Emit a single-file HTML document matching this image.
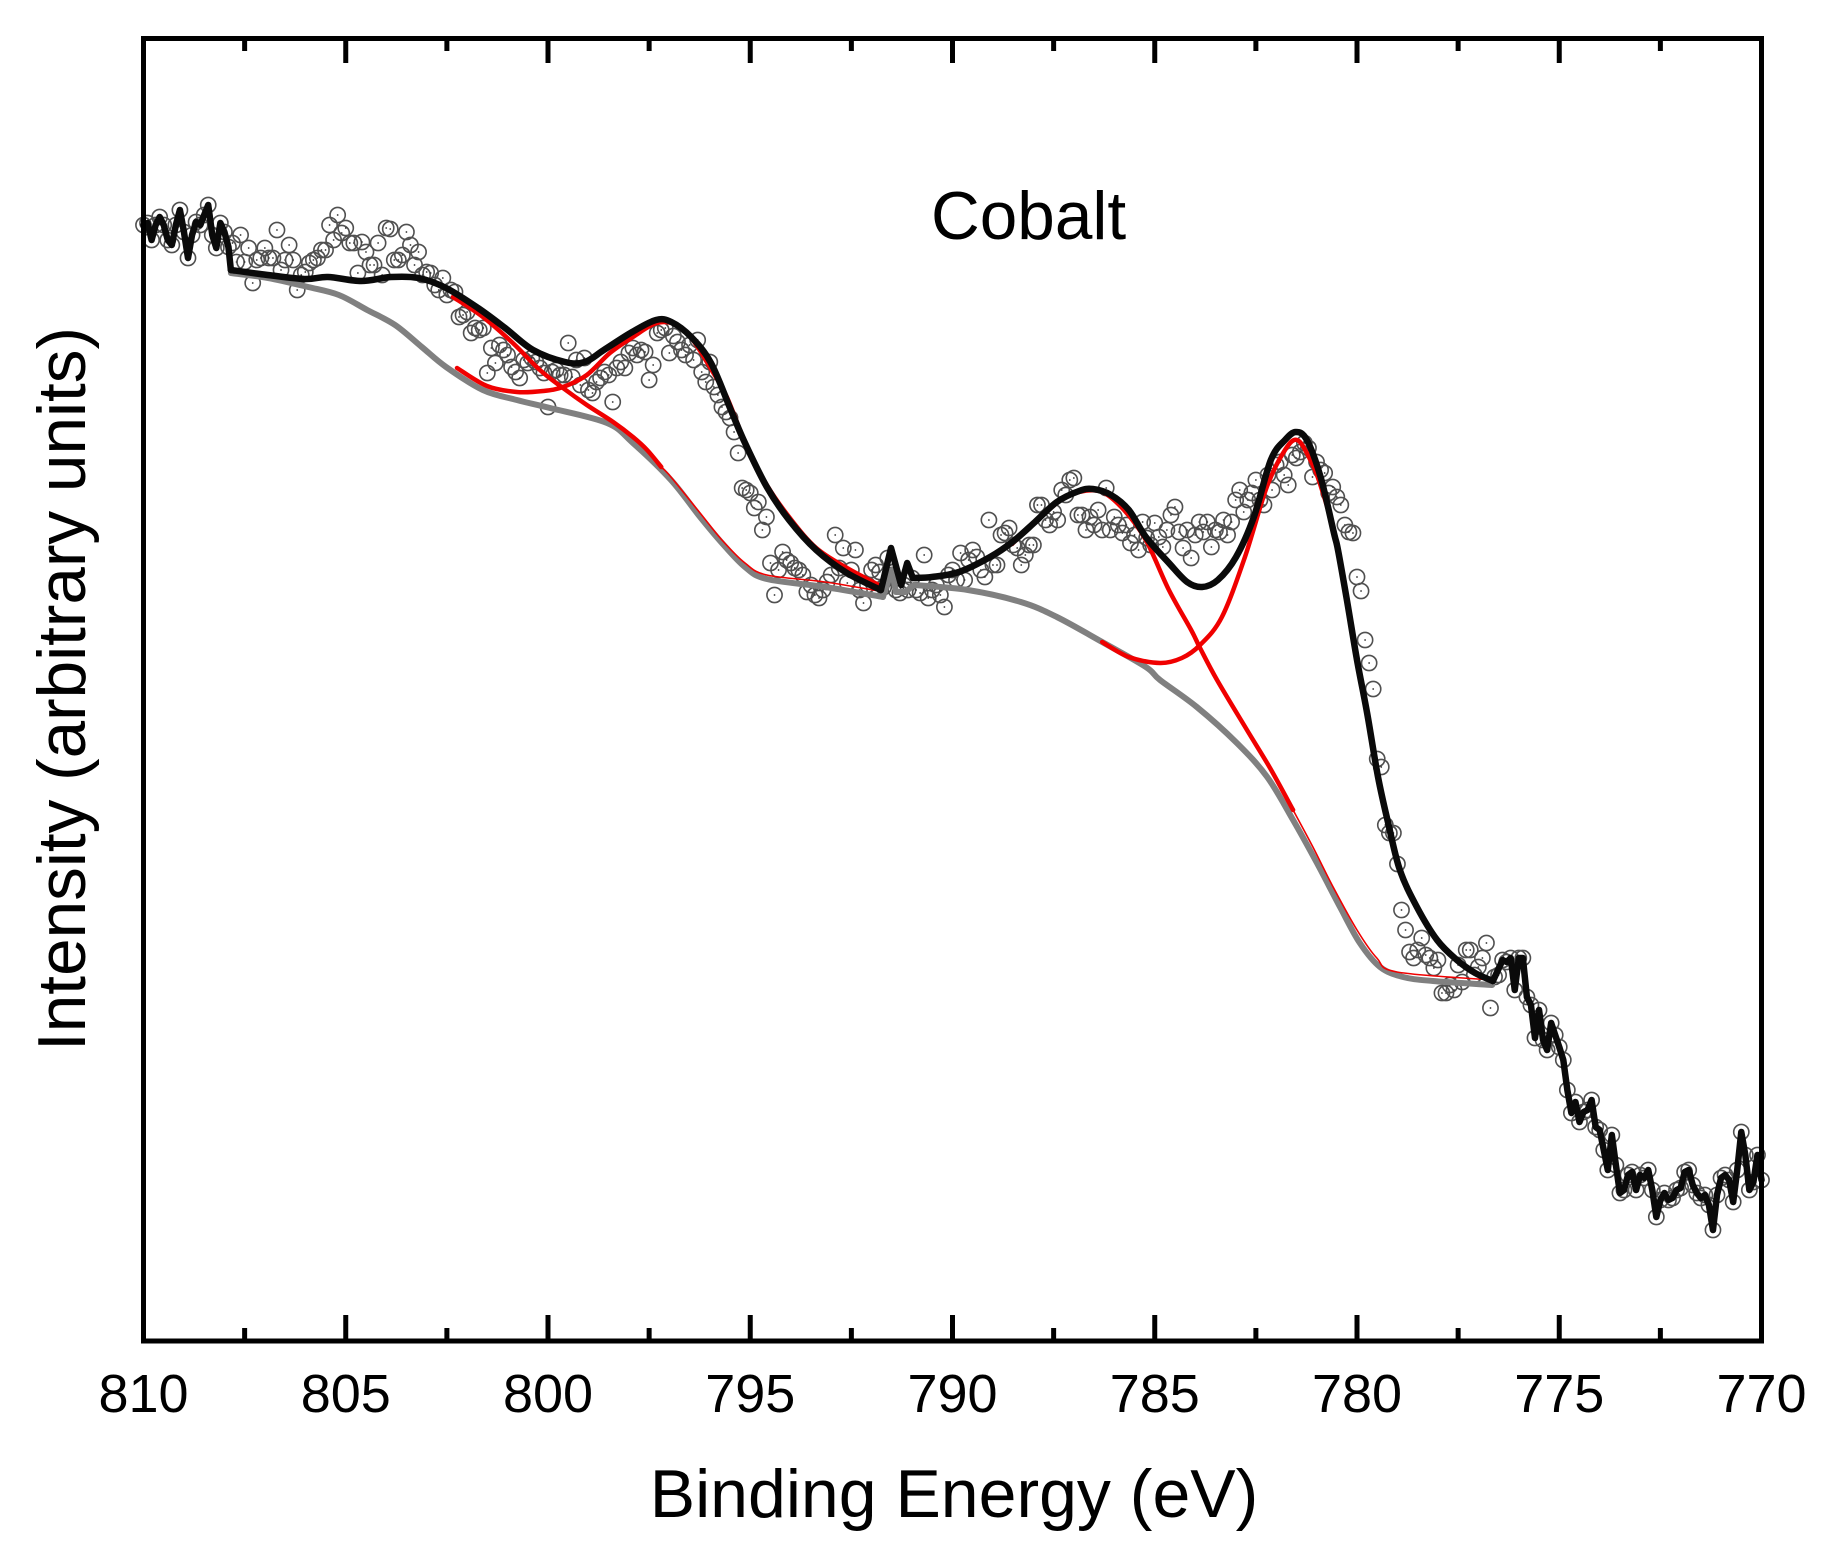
<!DOCTYPE html>
<html lang="en">
<head>
<meta charset="utf-8">
<title>Cobalt XPS spectrum</title>
<style>
html,body{margin:0;padding:0;background:#fff;}
svg{display:block;}
text{font-family:"Liberation Sans",Arial,sans-serif;fill:#000;}
</style>
</head>
<body>
<svg id="chart" xmlns="http://www.w3.org/2000/svg" width="1833" height="1561" viewBox="0 0 1833 1561">
  <rect x="0" y="0" width="1833" height="1561" fill="#fff"/>
  <g id="points"></g>
  <g id="lines"></g>
  <rect x="143.5" y="38.5" width="1618" height="1302.5" fill="none" stroke="#000" stroke-width="5"/>
  <g id="ticks"></g>
  <text x="931" y="239" font-size="67.5">Cobalt</text>
  <text x="954" y="1517" font-size="68" text-anchor="middle">Binding Energy (eV)</text>
  <text transform="translate(85,689) rotate(-90)" font-size="67.5" text-anchor="middle">Intensity (arbitrary units)</text>
</svg>
<script>
var majorTicks = [810, 805, 800, 795, 790, 785, 780, 775, 770];
var minorTicks = [807.5, 802.5, 797.5, 792.5, 787.5, 782.5, 777.5, 772.5];

var dataStartEnergy = 810;
var dataStepEnergy = 0.1;
var dataIntensity = [
1116,1118,1101,1116,1124,1116,1101,1096,1116,1131,1109,1083,1106,1119,1116,1126,1136,1106,1093,1118,1109,1094,
1098,1079,1106,1079,1093,1058,1081,1083,1093,1083,1083,1111,1071,1081,1096,1081,1051,1066,1069,1078,1081,1083,1091,1091,1116,1101,1126,1108,1113,1098,1098,1068,1099,1089,1076,1076,1098,1066,1113,1112,1081,1081,1086,1109,1096,1076,1089,1066,1069,1068,1056,1051,1063,1046,1051,1049,1024,1026,1029,1008,1013,1011,
1013,968,993,978,996,991,986,974,969,963,981,978,983,979,973,968,934,969,971,966,966,998,964,981,956,983,951,948,959,963,969,966,939,973,979,973,988,993,986,991,989,961,976,1008,1011,1013,988,1005,999,991,986,996,981,1001,969,959,979,954,946,934,929,923,909,888,
853,851,848,833,839,811,824,778,746,771,789,781,778,773,771,766,749,756,746,743,751,759,766,806,773,793,758,771,791,751,738,756,771,776,769,754,783,766,751,748,756,751,763,751,748,786,743,751,756,746,734,766,771,761,788,761,781,791,784,771,764,821,776,776,806,808,813,796,793,776,786,796,796,836,836,821,816,829,821,851,846,861,863,826,826,811,824,816,831,811,853,811,824,816,808,816,798,806,791,819,803,796,818,804,794,811,826,834,809,793,811,783,806,819,809,819,794,811,809,821,806,819,841,851,829,841,848,861,841,836,866,851,876,879,866,856,886,883,889,898,893,864,879,871,868,848,854,844,836,816,809,808,764,750,701,678,652,582,574,516,508,508,477,431,411,389,383,391,403,386,383,373,381,348,348,356,351,376,359,391,391,366,374,383,398,333,364,366,381,379,383,351,383,383,344,336,303,331,301,291,318,306,294,281,251,228,239,219,229,231,241,214,211,191,171,206,176,148,151,166,169,151,166,163,171,151,124,141,148,141,143,151,153,169,171,156,148,143,146,136,111,146,163,166,161,139,171,209,186,151,159,186,161
];

var fitEnergy = [807.84,807.12,806.03,805.44,804.62,803.88,803.20,802.52,801.73,801.06,800.37,799.58,799.09,798.62,797.92,797.33,796.95,796.46,795.97,795.48,795.13,794.59,794.04,793.37,792.61,791.77,791.52,791.27,791.12,790.98,790.51,789.84,789.07,788.52,787.96,787.42,786.87,786.53,786.08,785.64,785.22,784.65,784.20,783.83,783.44,782.99,782.55,782.13,781.78,781.51,781.24,780.90,780.57,780.47,780.25,780.00,779.75,779.48,779.23,778.94,778.52,778.02,777.53,777.08,776.64];
var fitIntensity = [1071,1067,1062,1064,1060,1064,1063,1053,1033,1013,991,979,979,991,1009,1021,1019,1004,978,931,898,854,821,791,768,751,793,756,778,763,764,769,784,799,819,839,850,852,846,831,804,778,759,754,761,784,824,881,901,909,901,864,808,791,741,681,628,564,518,471,434,401,381,368,360];

var backgroundEnergy = [807.84,806.92,805.93,805.17,804.47,803.78,803.12,802.52,801.61,800.77,799.95,798.54,797.90,796.96,796.24,795.70,795.13,794.59,793.15,791.72,791.50,791.40,791.17,790.95,789.62,788.31,787.42,786.30,785.22,784.87,783.96,782.97,782.22,781.58,780.99,780.42,779.93,779.43,778.86,778.12,776.66];
var backgroundIntensity = [1068,1063,1054,1046,1031,1016,994,974,951,941,933,918,898,861,824,798,774,762,754,744,771,749,749,756,751,739,724,699,674,661,634,598,564,521,478,434,398,374,364,360,356];

var peakAEnergy = [802.35,801.61,800.87,800.20,799.63,799.04,798.39,797.90,797.55,797.20];
var peakAIntensity = [1044,1024,998,971,953,936,919,904,891,874];

var peakBEnergy = [802.25,801.51,800.77,800.12,799.63,799.04,798.47,797.90,797.31,796.81,796.42,796.00,795.58,795.08,794.59,794.02,793.37,792.61,791.77];
var peakBIntensity = [973,955,949,950,954,966,988,1004,1018,1016,1001,974,944,894,856,823,793,773,755];

var peakCEnergy = [788.53,787.42,786.87,786.30,785.76,785.22,784.65,784.10,783.88,783.46,782.72,782.15,781.58];
var peakCIntensity = [797,838,849,849,831,801,751,711,693,661,611,573,531];

var peakDEnergy = [786.30,785.64,784.87,784.33,783.88,783.34,782.77,782.23,781.78,781.48,781.19,780.92,780.57,780.25];
var peakDIntensity = [699,684,678,683,696,724,784,854,891,901,884,858,808,741];

var tailLowEnergy = [797.20,796.96,796.24,795.70,795.13,794.59,793.15,791.82];
var tailLowIntensity = [874,864,828,801,778,766,759,750];
var tailHighEnergy = [781.58,781.09,780.59,780.00,779.51,779.01,776.66];
var tailHighIntensity = [531,494,454,411,383,369,361];

var noiseLeftCount = 22;
var noiseRightStart = 336;

var xDomain = [810, 770];
var yDomain = [0, 1303];
var plotLeft = 143.5, plotRight = 1761.5, plotTop = 38, plotBottom = 1341;

function xScale(e) {
  return plotLeft + (xDomain[0] - e) / (xDomain[0] - xDomain[1]) * (plotRight - plotLeft);
}
function yScale(v) {
  return plotBottom - (v - yDomain[0]) / (yDomain[1] - yDomain[0]) * (plotBottom - plotTop);
}

var NS = 'http://www.w3.org/2000/svg';
var pointsGroup = document.getElementById('points');
var linesGroup = document.getElementById('lines');
var ticksGroup = document.getElementById('ticks');

function energyAt(i) {
  return dataStartEnergy - i * dataStepEnergy;
}

dataIntensity.forEach(function (v, i) {
  var cx = xScale(energyAt(i));
  var cy = yScale(v);
  var ring = document.createElementNS(NS, 'circle');
  
  
  ring.setAttribute('cx', cx.toFixed(2));
  ring.setAttribute('cy', cy.toFixed(2));
  ring.setAttribute('r', '7.6');
  ring.setAttribute('fill', 'none');
  ring.setAttribute('stroke', '#505050');
  ring.setAttribute('stroke-width', '1.6');
  pointsGroup.appendChild(ring);
  var dot = document.createElementNS(NS, 'circle');
  
  
  dot.setAttribute('cx', cx.toFixed(2));
  dot.setAttribute('cy', cy.toFixed(2));
  dot.setAttribute('r', '0.9');
  dot.setAttribute('fill', '#333');
  pointsGroup.appendChild(dot);
});

function straightPath(energies, values) {
  return energies.map(function (e, i) {
    return (i ? 'L' : 'M') + xScale(e).toFixed(2) + ' ' + yScale(values[i]).toFixed(2);
  }).join(' ');
}

function smoothPath(energies, values) {
  var pts = energies.map(function (e, i) {
    return [xScale(e), yScale(values[i])];
  });
  var d = 'M' + pts[0][0].toFixed(2) + ' ' + pts[0][1].toFixed(2);
  for (var i = 0; i < pts.length - 1; i++) {
    var p0 = pts[Math.max(0, i - 1)];
    var p1 = pts[i];
    var p2 = pts[i + 1];
    var p3 = pts[Math.min(pts.length - 1, i + 2)];
    d += ' C' + (p1[0] + (p2[0] - p0[0]) / 6).toFixed(2) + ' ' + (p1[1] + (p2[1] - p0[1]) / 6).toFixed(2) +
         ' ' + (p2[0] - (p3[0] - p1[0]) / 6).toFixed(2) + ' ' + (p2[1] - (p3[1] - p1[1]) / 6).toFixed(2) +
         ' ' + p2[0].toFixed(2) + ' ' + p2[1].toFixed(2);
  }
  return d;
}

function addLine(name, d, color, width) {
  var p = document.createElementNS(NS, 'path');
  
  
  p.setAttribute('d', d);
  p.setAttribute('fill', 'none');
  p.setAttribute('stroke', color);
  p.setAttribute('stroke-width', width);
  p.setAttribute('stroke-linejoin', 'round');
  p.setAttribute('stroke-linecap', 'round');
  linesGroup.appendChild(p);
}

var bgSpikeStart = 19, bgSpikeEnd = 23;
addLine('background-line-left', smoothPath(backgroundEnergy.slice(0, bgSpikeStart + 1), backgroundIntensity.slice(0, bgSpikeStart + 1)), '#808080', 6);
addLine('background-line-spike', straightPath(backgroundEnergy.slice(bgSpikeStart, bgSpikeEnd + 1), backgroundIntensity.slice(bgSpikeStart, bgSpikeEnd + 1)), '#808080', 6);
addLine('background-line-right', smoothPath(backgroundEnergy.slice(bgSpikeEnd), backgroundIntensity.slice(bgSpikeEnd)), '#808080', 6);

addLine('peak-800-line', smoothPath(peakAEnergy, peakAIntensity), '#f00000', 4.5);
addLine('peak-797-line', smoothPath(peakBEnergy, peakBIntensity), '#f00000', 4.5);
addLine('peak-786-line', smoothPath(peakCEnergy, peakCIntensity), '#f00000', 4.5);
addLine('peak-781-line', smoothPath(peakDEnergy, peakDIntensity), '#f00000', 4.5);
addLine('peak-797-tail-line', smoothPath(tailLowEnergy, tailLowIntensity), '#f00000', 1.6);
addLine('peak-786-tail-line', smoothPath(tailHighEnergy, tailHighIntensity), '#f00000', 1.6);

var noiseLeftEnergy = [];
var noiseLeftIntensity = [];
var noiseRightEnergy = [];
var noiseRightIntensity = [];
dataIntensity.forEach(function (v, i) {
  if (i < noiseLeftCount) {
    noiseLeftEnergy.push(energyAt(i));
    noiseLeftIntensity.push(v);
  }
  if (i >= noiseRightStart) {
    noiseRightEnergy.push(energyAt(i));
    noiseRightIntensity.push(v);
  }
});

var fitSpikeStart = 25, fitSpikeEnd = 29, fitLast = fitEnergy.length - 1;
var leftJoinE = noiseLeftEnergy.concat(fitEnergy.slice(0, 1));
var leftJoinI = noiseLeftIntensity.concat(fitIntensity.slice(0, 1));
addLine('total-fit-noise-left', straightPath(leftJoinE, leftJoinI), '#0a0a0a', 6.5);
addLine('total-fit-line-left', smoothPath(fitEnergy.slice(0, fitSpikeStart + 1), fitIntensity.slice(0, fitSpikeStart + 1)), '#0a0a0a', 6.5);
addLine('total-fit-spike', straightPath(fitEnergy.slice(fitSpikeStart, fitSpikeEnd + 1), fitIntensity.slice(fitSpikeStart, fitSpikeEnd + 1)), '#0a0a0a', 6.5);
addLine('total-fit-line-right', smoothPath(fitEnergy.slice(fitSpikeEnd), fitIntensity.slice(fitSpikeEnd)), '#0a0a0a', 6.5);
var rightJoinE = fitEnergy.slice(fitLast).concat(noiseRightEnergy);
var rightJoinI = fitIntensity.slice(fitLast).concat(noiseRightIntensity);
addLine('total-fit-noise-right', straightPath(rightJoinE, rightJoinI), '#0a0a0a', 6.5);

function addTick(e, bottomLen, topLen, name) {
  var x = xScale(e).toFixed(2);
  var bottom = document.createElementNS(NS, 'line');
  
  
  bottom.setAttribute('x1', x);
  bottom.setAttribute('x2', x);
  bottom.setAttribute('y1', plotBottom);
  bottom.setAttribute('y2', plotBottom - bottomLen);
  bottom.setAttribute('stroke', '#000');
  bottom.setAttribute('stroke-width', '5');
  ticksGroup.appendChild(bottom);
  var top = document.createElementNS(NS, 'line');
  
  
  top.setAttribute('x1', x);
  top.setAttribute('x2', x);
  top.setAttribute('y1', plotTop);
  top.setAttribute('y2', plotTop + topLen);
  top.setAttribute('stroke', '#000');
  top.setAttribute('stroke-width', '5');
  ticksGroup.appendChild(top);
}

minorTicks.forEach(function (e) {
  addTick(e, 13, 13, 'minor-tick');
});
majorTicks.forEach(function (e) {
  addTick(e, 26, 25, 'major-tick');
  var t = document.createElementNS(NS, 'text');
  
  
  t.setAttribute('x', xScale(e).toFixed(2));
  t.setAttribute('y', '1412');
  t.setAttribute('font-size', '54');
  t.setAttribute('text-anchor', 'middle');
  t.textContent = String(e);
  ticksGroup.appendChild(t);
});
</script>
</body>
</html>
